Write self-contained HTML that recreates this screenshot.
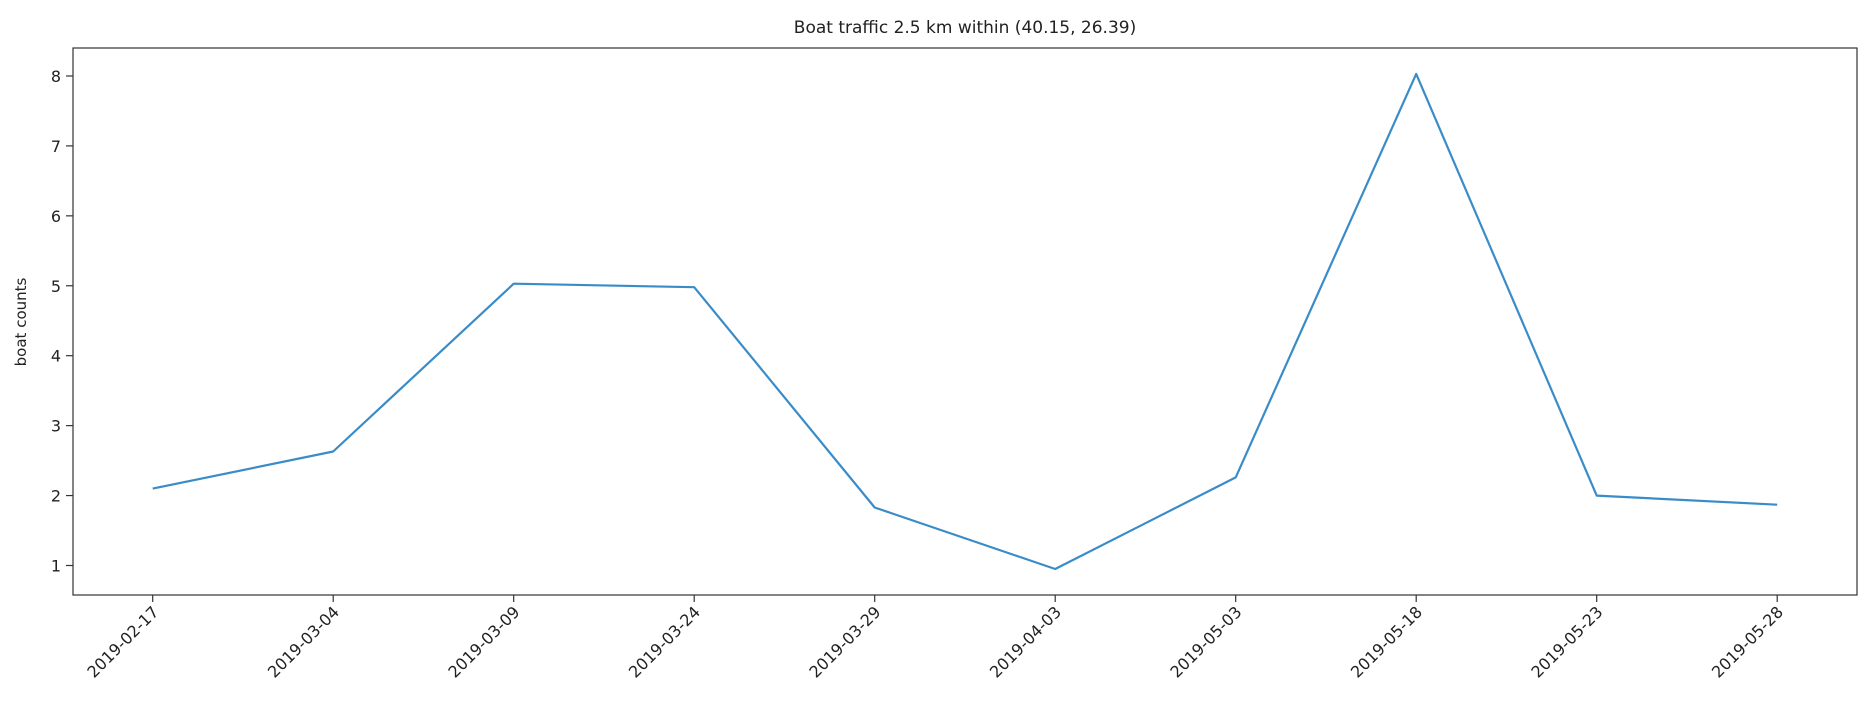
<!DOCTYPE html>
<html><head><meta charset="utf-8"><style>
html,body{margin:0;padding:0;background:#fff;}
svg{display:block;font-family:"DejaVu Sans","Liberation Sans",sans-serif;}
</style></head><body>
<svg id="chart" width="1876" height="717" viewBox="0 0 1876 717">
<text x="965" y="33" font-size="17" text-anchor="middle" fill="#222">Boat traffic 2.5 km within (40.15, 26.39)</text>
<text transform="translate(26,322) rotate(-90)" font-size="15" text-anchor="middle" fill="#222">boat counts</text>
<g id="yticks"></g>
<g id="xticks"></g>
<g id="series"></g>
<rect x="73" y="48" width="1784" height="547" fill="none" stroke="#333" stroke-width="1.2"/>
</svg>
<script>
const categories = ["2019-02-17","2019-03-04","2019-03-09","2019-03-24","2019-03-29","2019-04-03","2019-05-03","2019-05-18","2019-05-23","2019-05-28"];
const boatCounts = [2.1, 2.63, 5.03, 4.98, 1.83, 0.95, 2.26, 8.03, 2.0, 1.87];
const yTicks = [1,2,3,4,5,6,7,8];

const NS = "http://www.w3.org/2000/svg";
const x0 = 152.7, xStep = 180.5;
function xScale(i){ return x0 + i * xStep; }
function yScale(v){ return 565.5 - (v - 1) * 69.93; }
function mk(tag, attrs, parent){
  const e = document.createElementNS(NS, tag);
  for (const k in attrs) e.setAttribute(k, attrs[k]);
  parent.appendChild(e);
  return e;
}
const yg = document.getElementById('yticks');
yTicks.forEach(t => {
  const y = yScale(t);
  const l = mk('line', {x1:66, x2:73, y1:y, y2:y, stroke:'#333', 'stroke-width':1.2}, yg);
  
  
  const tx = mk('text', {x:61, y:y+6, 'font-size':16, 'text-anchor':'end', fill:'#222'}, yg);
  tx.textContent = t;
  
  
});
const xg = document.getElementById('xticks');
categories.forEach((c, i) => {
  const x = xScale(i);
  const l = mk('line', {x1:x, x2:x, y1:595, y2:602, stroke:'#333', 'stroke-width':1.2}, xg);
  
  
  const tx = mk('text', {transform:`translate(${x+7},613) rotate(-45)`, 'font-size':16, 'text-anchor':'end', fill:'#222'}, xg);
  tx.textContent = c;
  
  
});
const sg = document.getElementById('series');
const pts = boatCounts.map((v, i) => xScale(i).toFixed(1) + ',' + yScale(v).toFixed(1)).join(' ');
const pl = mk('polyline', {points:pts, fill:'none', stroke:'#3a8cc8', 'stroke-width':2.2, 'stroke-linejoin':'round'}, sg);


</script>
</body></html>
